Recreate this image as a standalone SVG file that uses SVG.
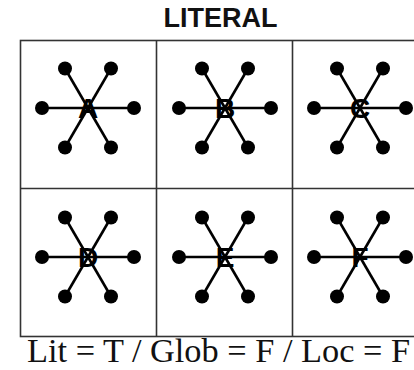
<svg xmlns="http://www.w3.org/2000/svg" width="414" height="370" viewBox="0 0 414 370">
  <defs>
    <style>
      .title { font-family: "Liberation Sans", Arial, sans-serif; font-weight: bold; font-size: 27px; fill: #111; }
      .caption { font-family: "Liberation Serif", "Times New Roman", serif; font-size: 34px; fill: #111; }
      .grid { fill: none; stroke: #333; stroke-width: 1.6; }
      .label { font-family: "Liberation Sans", Arial, sans-serif; font-weight: bold; font-size: 28px; fill: #000; text-anchor: middle; }
      .arm { stroke: #000; stroke-width: 2.6; }
      .dot { fill: #000; }
    </style>
    <!-- one six-armed star, centred on the origin -->
    <g id="star">
      <line class="arm" x1="-46" y1="0" x2="46" y2="0"/>
      <line class="arm" x1="-23" y1="-39.5" x2="23" y2="39.5"/>
      <line class="arm" x1="23" y1="-39.5" x2="-23" y2="39.5"/>
      <circle class="dot" cx="-46" cy="0" r="7"/>
      <circle class="dot" cx="46" cy="0" r="7"/>
      <circle class="dot" cx="-23" cy="-39.5" r="7"/>
      <circle class="dot" cx="23" cy="-39.5" r="7"/>
      <circle class="dot" cx="-23" cy="39.5" r="7"/>
      <circle class="dot" cx="23" cy="39.5" r="7"/>
    </g>
  </defs>
  <rect width="414" height="370" fill="#fff"/>

  <text class="title" x="220.5" y="27" text-anchor="middle">LITERAL</text>

  <!-- table frame -->
  <g id="grid">
    <rect class="grid" x="20.5" y="40.5" width="420" height="296"/>
    <line class="grid" x1="156.5" y1="40.5" x2="156.5" y2="336.5"/>
    <line class="grid" x1="292.5" y1="40.5" x2="292.5" y2="336.5"/>
    <line class="grid" x1="20.5" y1="188.5" x2="430" y2="188.5"/>
  </g>

  <g id="node-A" transform="translate(88,108)">
    <text class="label" x="0" y="10">A</text>
    <use href="#star"/>
  </g>
  <g id="node-B" transform="translate(225,108)">
    <text class="label" x="0" y="10">B</text>
    <use href="#star"/>
  </g>
  <g id="node-C" transform="translate(360,108)">
    <text class="label" x="0" y="10">C</text>
    <use href="#star"/>
  </g>
  <g id="node-D" transform="translate(88,257)">
    <text class="label" x="0" y="10">D</text>
    <use href="#star"/>
  </g>
  <g id="node-E" transform="translate(225,257)">
    <text class="label" x="0" y="10">E</text>
    <use href="#star"/>
  </g>
  <g id="node-F" transform="translate(360,257)">
    <text class="label" x="0" y="10">F</text>
    <use href="#star"/>
  </g>

  <text class="caption" x="27" y="362" textLength="383" lengthAdjust="spacingAndGlyphs">Lit = T / Glob = F / Loc = F</text>
</svg>
